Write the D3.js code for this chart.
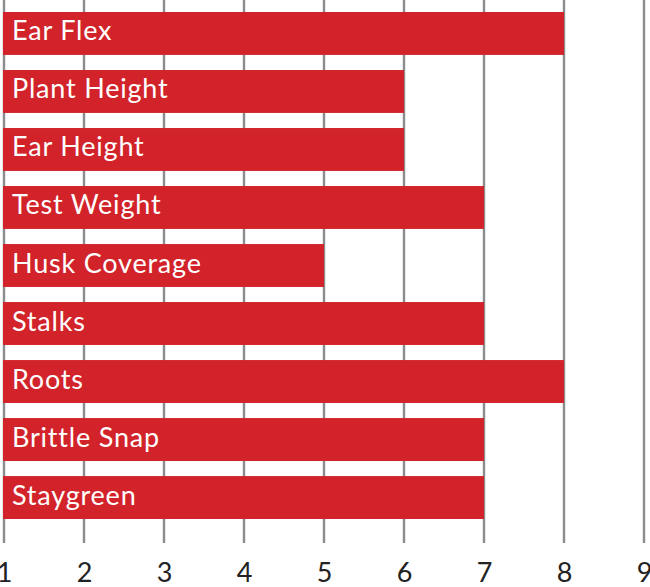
<!DOCTYPE html>
<html>
<head>
<meta charset="utf-8">
<script src="https://cdn.jsdelivr.net/npm/d3@7"></script>
<style>
  body { margin: 0; background: #fff; }
  svg { display: block; }
</style>
</head>
<body>
<svg id="chart" width="650" height="587"></svg>
<script>
const traits = ["Ear Flex", "Plant Height", "Ear Height", "Test Weight", "Husk Coverage",
  "Stalks", "Roots", "Brittle Snap", "Staygreen"];
const scores = [8, 6, 6, 7, 5, 7, 8, 7, 7];
const ticks = [1, 2, 3, 4, 5, 6, 7, 8, 9];

const svg = d3.select("#chart");
const gridBottom = 543;

// x runs 1..9, one unit is 80px
const x = d3.scaleLinear().domain([1, 9]).range([4, 644]);
const y = d3.scaleBand().domain(traits).range([0, 531])
  .paddingInner(0.26).paddingOuter(0.207);

// gridlines
svg.append("g")
  .selectAll("line")
  .data(ticks)
  .enter().append("line")
  .attr("x1", d => x(d))
  .attr("x2", d => x(d))
  .attr("y1", 0)
  .attr("y2", gridBottom)
  .attr("stroke", "#8b8c90")
  .attr("stroke-width", 2.4);

// bars
const rows = traits.map((t, i) => ({ trait: t, score: scores[i] }));
svg.append("g")
  .selectAll("rect")
  .data(rows)
  .enter().append("rect")
  .attr("x", x(1) - 1)
  .attr("y", d => y(d.trait))
  .attr("width", d => x(d.score) - x(1) + 1)
  .attr("height", y.bandwidth())
  .attr("fill", "#d2232a");

// labels inside bars
svg.append("g")
  .selectAll("text")
  .data(rows)
  .enter().append("text")
  .attr("x", 12)
  .attr("y", d => y(d.trait) + y.bandwidth() / 2 + 7)
  .attr("fill", "#fff")
  .attr("font-family", "Lato, 'Open Sans', sans-serif")
  .attr("font-size", 27)
  .attr("letter-spacing", 0.8)
  .text(d => d.trait);

// x axis tick labels
const xAxis = d3.axisBottom(x).tickValues(ticks).tickSize(0).tickPadding(0).tickFormat(d3.format("d"));
const ax = svg.append("g")
  .attr("transform", `translate(0, ${gridBottom})`)
  .call(xAxis);
ax.select(".domain").remove();
ax.selectAll("text")
  .attr("y", 39)
  .attr("dy", 0)
  .attr("fill", "#222")
  .attr("font-family", "Lato, 'Open Sans', sans-serif")
  .attr("font-size", 27);
</script>
</body>
</html>
